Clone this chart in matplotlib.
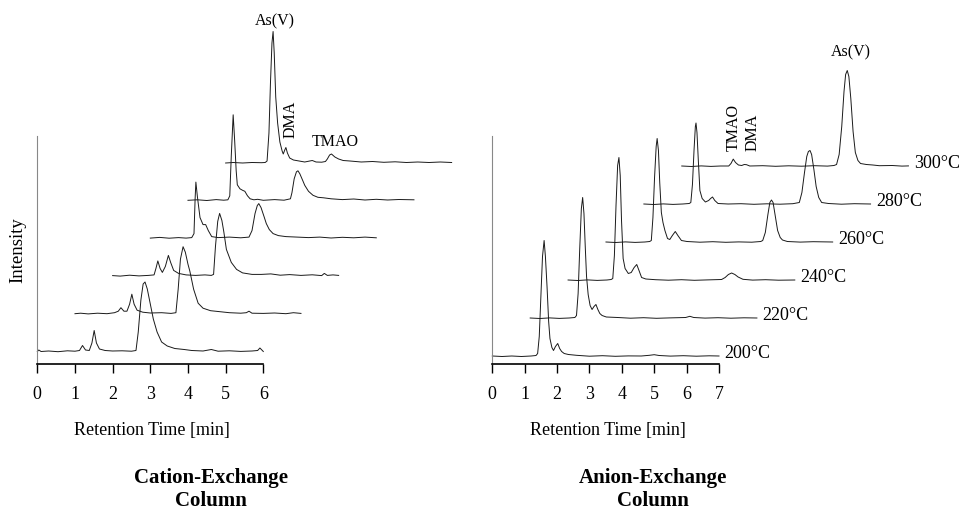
import matplotlib
matplotlib.use("Agg")
import matplotlib.pyplot as plt
import numpy as np

plt.rcParams['font.family'] = ['Liberation Serif', 'DejaVu Serif']

# ---- cation-exchange column: (retention time [min], signal)
cat_1 = [(0.00, 0.5), (0.04, 2.0), (0.10, 0.5), (0.30, 1.0), (0.55, 0.3), (0.80, 1.2), (1.00, 0.8),
         (1.12, 1.5), (1.20, 6.5), (1.28, 2.0), (1.38, 1.5), (1.45, 9.0), (1.51, 21.5), (1.57, 9.0),
         (1.65, 3.0), (1.80, 1.5), (2.00, 1.0), (2.25, 1.2), (2.50, 0.8), (2.62, 1.5), (2.68, 20),
         (2.75, 52), (2.81, 68), (2.86, 70), (2.92, 63), (3.00, 48), (3.08, 33), (3.18, 20), (3.30, 10),
         (3.45, 6), (3.65, 3.5), (3.90, 2.5), (4.10, 1.5), (4.40, 1.0), (4.62, 2.5), (4.80, 0.8),
         (5.10, 1.2), (5.40, 0.6), (5.70, 1.0), (5.85, 1.5), (5.91, 4.0), (6.00, 0.5)]
cat_2 = [(0.00, 0.5), (0.15, 1.0), (0.35, 0.3), (0.60, 1.0), (0.85, 0.5), (1.05, 1.5), (1.15, 3.0),
         (1.22, 6.5), (1.30, 3.0), (1.38, 3.0), (1.45, 10), (1.51, 20), (1.57, 10), (1.65, 4.0),
         (1.80, 2.0), (2.00, 1.2), (2.30, 1.5), (2.55, 0.8), (2.68, 1.5), (2.74, 25), (2.80, 55),
         (2.87, 67.5), (2.93, 62), (3.00, 50), (3.05, 43), (3.15, 25), (3.27, 11), (3.40, 6),
         (3.60, 3.5), (3.85, 2.5), (4.10, 1.5), (4.40, 1.0), (4.55, 1.5), (4.62, 3.0), (4.70, 1.0),
         (5.00, 0.8), (5.30, 1.2), (5.60, 0.5), (5.80, 1.5), (6.00, 0.8)]
cat_3 = [(0.00, 0.8), (0.20, 0.3), (0.45, 1.2), (0.70, 0.5), (0.95, 1.0), (1.10, 1.5), (1.15, 8.0),
         (1.20, 15.5), (1.26, 8.0), (1.32, 4.0), (1.40, 10), (1.48, 21), (1.54, 14), (1.62, 6.0),
         (1.75, 3.0), (1.95, 1.5), (2.20, 1.0), (2.45, 1.5), (2.62, 1.0), (2.68, 2.0), (2.73, 30),
         (2.79, 55), (2.84, 63), (2.90, 56), (2.95, 45), (3.02, 27), (3.15, 14), (3.29, 7),
         (3.45, 3.5), (3.70, 2.0), (3.95, 2.0), (4.20, 2.5), (4.45, 1.2), (4.70, 1.8), (5.00, 1.0),
         (5.30, 1.6), (5.55, 0.8), (5.62, 3.0), (5.70, 1.0), (5.85, 1.5), (6.00, 1.0)]
cat_4 = [(0.00, 0.5), (0.25, 1.2), (0.50, 0.4), (0.75, 1.0), (0.95, 0.5), (1.10, 1.0), (1.16, 5.0),
         (1.19, 40), (1.21, 56.5), (1.25, 42), (1.32, 21), (1.40, 14), (1.47, 14), (1.54, 8),
         (1.63, 2.0), (1.80, 1.0), (2.10, 1.5), (2.40, 0.8), (2.62, 1.5), (2.70, 8), (2.78, 25),
         (2.84, 33), (2.88, 35), (2.94, 31), (3.02, 22), (3.08, 15), (3.16, 9), (3.26, 5),
         (3.40, 3.0), (3.60, 2.0), (3.90, 1.5), (4.20, 1.0), (4.50, 1.5), (4.80, 0.6), (5.10, 1.3),
         (5.40, 0.8), (5.70, 1.5), (6.00, 0.8)]
cat_5 = [(0.00, 0.5), (0.25, 1.0), (0.50, 0.3), (0.75, 1.2), (0.95, 0.6), (1.06, 1.0), (1.11, 5.0),
         (1.15, 45), (1.20, 86), (1.24, 60), (1.28, 30), (1.31, 16), (1.38, 12), (1.45, 10.5),
         (1.51, 9.5), (1.58, 5.0), (1.65, 2.0), (1.75, 1.0), (1.85, 1.5), (2.00, 0.5), (2.30, 1.2),
         (2.55, 0.6), (2.72, 2.0), (2.76, 8), (2.82, 22), (2.88, 29), (2.92, 30), (2.97, 27),
         (3.05, 20), (3.10, 15.5), (3.20, 9.5), (3.32, 5.5), (3.45, 3.5), (3.60, 3.0), (3.80, 2.0),
         (4.10, 1.2), (4.40, 1.8), (4.70, 0.8), (5.00, 1.5), (5.30, 0.8), (5.60, 1.3), (6.00, 1.0)]
cat_6 = [(0.00, 0.0), (0.20, 0.5), (0.45, 0.0), (0.70, 0.5), (0.95, 0.3), (1.05, 0.5), (1.10, 2.0),
         (1.15, 30), (1.19, 80), (1.23, 120), (1.26, 131.5), (1.29, 110), (1.33, 66), (1.38, 40),
         (1.44, 21), (1.50, 12), (1.53, 9), (1.57, 13), (1.60, 15.5), (1.64, 10), (1.70, 5),
         (1.80, 3), (1.95, 2), (2.10, 1), (2.30, 2.5), (2.40, 1), (2.55, 0.8), (2.65, 1.5),
         (2.70, 4), (2.76, 8), (2.81, 9), (2.90, 6), (3.00, 4), (3.12, 2.5), (3.30, 2), (3.60, 1),
         (3.90, 1.5), (4.20, 0.7), (4.50, 1.2), (4.80, 0.5), (5.10, 1.0), (5.40, 0.5), (5.70, 1.0),
         (6.00, 0.5)]
cation_traces = [cat_1, cat_2, cat_3, cat_4, cat_5, cat_6]

# ---- anion-exchange column, one trace per temperature
an_200 = [(0.00, 0.5), (0.30, 0.0), (0.60, 0.5), (0.90, 0.0), (1.20, 0.5), (1.35, 1.0), (1.40, 3),
          (1.45, 20), (1.50, 60), (1.55, 100), (1.60, 116), (1.64, 100), (1.69, 70), (1.74, 35),
          (1.78, 18), (1.84, 9), (1.89, 6), (1.95, 10), (2.02, 13), (2.08, 8), (2.14, 5), (2.22, 3),
          (2.35, 2), (2.60, 1.2), (3.00, 0.3), (3.40, 0.8), (3.80, 0.2), (4.20, 0.6), (4.60, 0.5),
          (4.85, 1.2), (5.00, 1.8), (5.15, 1.0), (5.50, 0.4), (5.90, 0.8), (6.30, 0.3), (6.70, 0.7),
          (7.00, 0.5)]
an_220 = [(0.00, 0.5), (0.30, 0.0), (0.60, 0.6), (0.90, 0.1), (1.20, 0.5), (1.38, 1.0), (1.43, 3),
          (1.48, 25), (1.53, 70), (1.58, 110), (1.62, 121), (1.66, 105), (1.70, 72), (1.74, 42),
          (1.79, 24), (1.85, 13), (1.91, 9), (1.97, 12), (2.03, 14), (2.09, 9), (2.15, 5), (2.22, 3),
          (2.35, 1.5), (2.70, 1.0), (3.10, 0.3), (3.50, 0.8), (3.90, 0.2), (4.30, 0.6), (4.80, 1.0),
          (4.93, 2.2), (5.05, 1.0), (5.40, 0.4), (5.80, 0.8), (6.20, 0.3), (6.60, 0.7), (7.00, 0.5)]
an_240 = [(0.00, 0.5), (0.30, 0.0), (0.60, 0.6), (0.90, 0.1), (1.20, 0.5), (1.33, 1.0), (1.38, 2),
          (1.43, 25), (1.48, 75), (1.53, 115), (1.57, 123), (1.61, 105), (1.65, 60), (1.70, 22),
          (1.76, 12), (1.86, 7), (1.95, 8), (2.04, 13), (2.12, 16), (2.19, 10), (2.27, 3), (2.40, 1.5),
          (2.70, 0.8), (3.10, 0.3), (3.50, 0.8), (3.90, 0.2), (4.30, 0.6), (4.74, 1.0), (4.85, 3),
          (4.95, 6), (5.05, 7.5), (5.15, 6), (5.25, 3.5), (5.40, 1.2), (5.70, 0.4), (6.10, 0.8),
          (6.50, 0.3), (7.00, 0.5)]
an_260 = [(0.00, 0.5), (0.30, 0.0), (0.60, 0.6), (0.90, 0.1), (1.20, 0.5), (1.35, 1.0), (1.40, 2),
          (1.45, 25), (1.50, 65), (1.55, 96), (1.58, 104), (1.62, 92), (1.66, 60), (1.71, 30),
          (1.76, 20), (1.82, 12), (1.90, 4), (1.97, 3), (2.05, 7), (2.14, 11), (2.22, 7), (2.33, 2),
          (2.50, 1.0), (2.90, 0.3), (3.30, 0.8), (3.70, 0.2), (4.10, 0.6), (4.50, 0.3), (4.78, 1.0),
          (4.84, 2), (4.92, 10), (5.00, 28), (5.06, 40), (5.11, 42.5), (5.16, 40), (5.22, 28),
          (5.30, 12), (5.38, 5), (5.45, 2.5), (5.60, 1.0), (6.00, 0.4), (6.40, 0.8), (7.00, 0.5)]
an_280 = [(0.00, 0.5), (0.30, 0.0), (0.60, 0.6), (0.90, 0.1), (1.20, 0.5), (1.40, 1.0), (1.45, 2),
          (1.50, 20), (1.55, 55), (1.59, 78), (1.61, 81.5), (1.64, 72), (1.68, 45), (1.73, 14),
          (1.80, 6), (1.90, 2.5), (2.00, 4), (2.06, 6), (2.12, 7.5), (2.19, 4), (2.29, 1.0),
          (2.60, 0.5), (3.00, 0.8), (3.40, 0.2), (3.80, 0.7), (4.20, 0.3), (4.60, 0.8), (4.80, 2),
          (4.88, 12), (4.96, 32), (5.03, 48), (5.08, 53), (5.13, 54), (5.18, 50), (5.25, 35),
          (5.32, 18), (5.40, 7), (5.49, 2), (5.70, 1.0), (6.10, 0.3), (6.50, 0.8), (7.00, 0.5)]
an_300 = [(0.00, 0.5), (0.30, 0.0), (0.60, 0.6), (0.90, 0.1), (1.20, 0.5), (1.45, 0.5), (1.52, 3),
          (1.59, 7.4), (1.66, 4), (1.75, 1.5), (1.85, 1.0), (1.93, 2.0), (2.00, 1.8), (2.10, 0.5),
          (2.50, 0.8), (2.90, 0.2), (3.30, 0.7), (3.70, 0.3), (4.10, 0.8), (4.50, 0.4), (4.70, 1.0),
          (4.78, 2), (4.86, 12), (4.94, 40), (5.01, 75), (5.06, 92), (5.11, 96), (5.16, 90),
          (5.22, 68), (5.29, 35), (5.36, 14), (5.44, 6), (5.52, 3), (5.70, 2.0), (5.90, 1.5),
          (6.10, 0.8), (6.50, 1.0), (6.80, 0.4), (7.00, 0.6)]
anion_traces = [an_200, an_220, an_240, an_260, an_280, an_300]
anion_temps = ['200°C', '220°C', '240°C', '260°C', '280°C', '300°C']

cation_ticks = [0, 1, 2, 3, 4, 5, 6]
anion_ticks = [0, 1, 2, 3, 4, 5, 6, 7]

# waterfall offsets (x in min, y in signal units) between stacked traces
cat_dx, cat_dy, cat_y0 = 1.0, 37.8, 12.0
an_dx, an_dy, an_y0 = 1.17, 38.0, 7.5

W, H = 961, 510
fig = plt.figure(figsize=(W / 100, H / 100), dpi=100)
ax1 = fig.add_axes([37.3 / W, (H - 365) / H, 226.0 / W, 228 / H])
ax2 = fig.add_axes([492.3 / W, (H - 365) / H, 226.7 / W, 228 / H])

line_kw = dict(color='#1a1a1a', lw=0.7, clip_on=False)

for k, tr in enumerate(cation_traces):
    t, s = np.array(tr).T
    ax1.plot(t + k * cat_dx, s + cat_y0 + k * cat_dy, **line_kw)

for k, tr in enumerate(anion_traces):
    t, s = np.array(tr).T
    ax2.plot(t + k * an_dx, s + an_y0 + k * an_dy, **line_kw)
    ax2.text(t[-1] + k * an_dx + 0.17, an_y0 + k * an_dy + 4, anion_temps[k],
             fontsize=13, ha='left', va='center')

# peak labels
ax1.text(6.3, 344, 'As(V)', fontsize=11.5, ha='center', va='center')
ax1.text(6.72, 227, 'DMA', fontsize=11.5, rotation=90, ha='center', va='bottom')
ax1.text(7.92, 223, 'TMAO', fontsize=11.5, ha='center', va='center')
ax2.text(11.06, 313, 'As(V)', fontsize=11.5, ha='center', va='center')
ax2.text(7.44, 214, 'TMAO', fontsize=11.5, rotation=90, ha='center', va='bottom')
ax2.text(8.05, 214, 'DMA', fontsize=11.5, rotation=90, ha='center', va='bottom')

for ax, ticks in ((ax1, cation_ticks), (ax2, anion_ticks)):
    ax.set_xlim(ticks[0], ticks[-1])
    ax.set_ylim(0, 228)
    ax.set_xticks(ticks)
    ax.set_yticks([])
    ax.patch.set_visible(False)
    for side in ('top', 'right'):
        ax.spines[side].set_visible(False)
    ax.spines['left'].set_color('#888888')
    ax.spines['left'].set_linewidth(0.8)
    ax.spines['bottom'].set_linewidth(1.2)
    ax.tick_params(axis='x', direction='out', length=6.5, width=1.0, pad=8.5, labelsize=13)

fig.text(18 / W, 1 - 250 / H, 'Intensity', rotation=90, fontsize=13.5, ha='center', va='center')
fig.text(152 / W, 1 - 431 / H, 'Retention Time [min]', fontsize=13, ha='center', va='center')
fig.text(608 / W, 1 - 431 / H, 'Retention Time [min]', fontsize=13, ha='center', va='center')
fig.text(211 / W, 1 - 490 / H, 'Cation-Exchange\nColumn', fontsize=15, fontweight='bold',
         ha='center', va='center', linespacing=1.2)
fig.text(653 / W, 1 - 490 / H, 'Anion-Exchange\nColumn', fontsize=15, fontweight='bold',
         ha='center', va='center', linespacing=1.2)

fig.savefig('out.png', dpi=100, facecolor='white')
